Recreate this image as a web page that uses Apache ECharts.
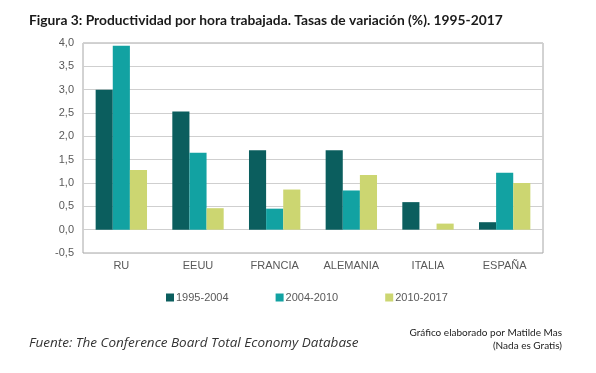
<!DOCTYPE html>
<html>
<head>
<meta charset="utf-8">
<script src="https://cdn.jsdelivr.net/npm/echarts@6/dist/echarts.min.js"></script>
<style>html,body{margin:0;padding:0;background:#fff;}#c{width:596px;height:373px;}</style>
</head>
<body>
<div id="c"></div>
<script>
const categories = ['RU', 'EEUU', 'FRANCIA', 'ALEMANIA', 'ITALIA', 'ESPAÑA'];
const s1995_2004 = [3.00, 2.53, 1.70, 1.70, 0.59, 0.16];
const s2004_2010 = [3.94, 1.65, 0.45, 0.84, 0.00, 1.22];
const s2010_2017 = [1.28, 0.46, 0.86, 1.17, 0.13, 1.00];
const seriesNames = ['1995-2004', '2004-2010', '2010-2017'];
const colors = ['#0b5e5e', '#12a2a2', '#ccd671'];

const chart = echarts.init(document.getElementById('c'));
const axisFont = { fontFamily: 'Liberation Sans', fontSize: 11, color: '#595959' };
chart.setOption({
  animation: false,
  color: colors,
  title: [
    { text: 'Figura 3: Productividad por hora trabajada. Tasas de variación (%). 1995-2017',
      left: 24, top: 9,
      textStyle: { fontFamily: 'Lato', fontWeight: 'bold', fontSize: 13.8, color: '#1a1a1a' } },
    { text: 'Fuente: The Conference Board Total Economy Database',
      left: 24, top: 331,
      textStyle: { fontFamily: 'Open Sans', fontStyle: 'italic', fontWeight: 'normal', fontSize: 13.5, color: '#333' } }
  ],
  graphic: [
    { type: 'text', right: 34, top: 328,
      style: { text: 'Gráfico elaborado por Matilde Mas', font: '10px Lato', fill: '#222' } },
    { type: 'text', right: 34, top: 341,
      style: { text: '(Nada es Gratis)', font: '10px Lato', fill: '#222' } }
  ],
  legend: {
    data: seriesNames, left: 161, top: 287, icon: 'rect', itemWidth: 8, itemHeight: 8, itemGap: 47,
    textStyle: Object.assign({}, axisFont, { padding: [0, 0, 0, -3] })
  },
  grid: { left: 83, right: 53, top: 43, bottom: 120, show: true, borderColor: '#a6a6a6', borderWidth: 1 },
  xAxis: {
    type: 'category', data: categories,
    axisLine: { show: false, onZero: false }, axisTick: { show: false },
    axisLabel: Object.assign({ margin: 7 }, axisFont)
  },
  yAxis: {
    type: 'value', min: -0.5, max: 4, interval: 0.5,
    axisLine: { show: false }, axisTick: { show: false },
    splitLine: { lineStyle: { color: '#cfcfcf', width: 1 } },
    axisLabel: Object.assign({ margin: 9, formatter: v => v.toFixed(1).replace('.', ',') }, axisFont)
  },
  series: [
    { name: seriesNames[0], type: 'bar', data: s1995_2004, barGap: '0%', barCategoryGap: '33%' },
    { name: seriesNames[1], type: 'bar', data: s2004_2010, barGap: '0%', barCategoryGap: '33%' },
    { name: seriesNames[2], type: 'bar', data: s2010_2017, barGap: '0%', barCategoryGap: '33%' }
  ]
});
</script>
</body>
</html>
